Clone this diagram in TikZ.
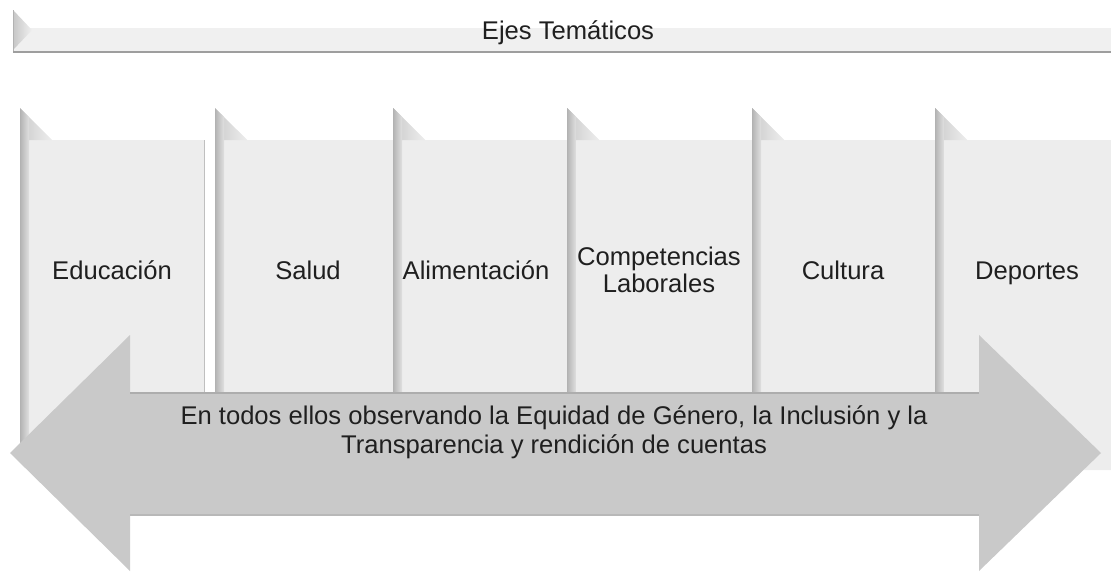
\documentclass[tikz,border=0pt]{standalone}
\usepackage{fontspec}
\setmainfont{Liberation Sans}
\usetikzlibrary{calc,positioning}
\tikzset{
colbody/.style={fill=black!7},
colstrip/.style={left color=black!30,right color=black!12},
colfold/.style={left color=black!20,right color=black!7},
collabel/.style={font=\fontsize{18.2}{19}\selectfont,align=center,text=black!88}
}
\tikzset{
bannerbody/.style={fill=black!6},
bannerfold/.style={left color=black!22,right color=black!6},
bannerline/.style={draw=black!38,line width=1.6pt},
bigarrow/.style={fill=black!21},
arrowtext/.style={font=\fontsize{18.2}{20.8}\selectfont,align=center,text=black!88}
}

\begin{document}
\begin{tikzpicture}[x=0.025cm,y=-0.025cm,>=latex]
\useasboundingbox (0,0) rectangle (1111,573);

\begin{scope}
\coordinate(btop) at (13,10);
\coordinate(bbot) at (1111,52);
\fill[bannerbody] (btop |- 0,28) rectangle (bbot);
\shade[bannerfold] (btop) -- (32,30) -- (btop |- 0,50) -- cycle;
\draw[black!30] (btop) -- (btop |- bbot);
\draw[bannerline] (btop |- bbot) -- (bbot);
\node (ejes) at (568,33) [collabel]{Ejes Temáticos};
\end{scope}

\begin{scope}
\coordinate(ctop) at (20,108);
\coordinate(cbot) at (204,450);
\fill[colbody] (ctop) -- ++(32,32) -| (cbot) -- (ctop |- cbot) -- cycle;
\draw[black!25] (ctop -| cbot) ++(0,32) -- (cbot);
\shade[colfold] (ctop) -- ++(32,32) -- ++(-32,0) -- cycle;
\shade[colstrip] (ctop) -- ++(9,9) -- ($(ctop |- cbot)+(9,0)$) -- (ctop |- cbot) -- cycle;
\node (educacion) at (112,270) [collabel]{Educación};
\end{scope}

\begin{scope}
\coordinate(ctop) at (215,108);
\coordinate(cbot) at (393,450);
\fill[colbody] (ctop) -- ++(32,32) -| (cbot) -- (ctop |- cbot) -- cycle;
\shade[colfold] (ctop) -- ++(32,32) -- ++(-32,0) -- cycle;
\shade[colstrip] (ctop) -- ++(9,9) -- ($(ctop |- cbot)+(9,0)$) -- (ctop |- cbot) -- cycle;
\node (salud) at (308,270) [collabel]{Salud};
\end{scope}

\begin{scope}
\coordinate(ctop) at (393,108);
\coordinate(cbot) at (567,450);
\fill[colbody] (ctop) -- ++(32,32) -| (cbot) -- (ctop |- cbot) -- cycle;
\shade[colfold] (ctop) -- ++(32,32) -- ++(-32,0) -- cycle;
\shade[colstrip] (ctop) -- ++(9,9) -- ($(ctop |- cbot)+(9,0)$) -- (ctop |- cbot) -- cycle;
\node (alimentacion) at (476,270) [collabel]{Alimentación};
\end{scope}

\begin{scope}
\coordinate(ctop) at (567,108);
\coordinate(cbot) at (752,450);
\fill[colbody] (ctop) -- ++(32,32) -| (cbot) -- (ctop |- cbot) -- cycle;
\shade[colfold] (ctop) -- ++(32,32) -- ++(-32,0) -- cycle;
\shade[colstrip] (ctop) -- ++(9,9) -- ($(ctop |- cbot)+(9,0)$) -- (ctop |- cbot) -- cycle;
\node (competencias) at (659,270) [collabel]{Competencias\\Laborales};
\end{scope}

\begin{scope}
\coordinate(ctop) at (752,108);
\coordinate(cbot) at (935,450);
\fill[colbody] (ctop) -- ++(32,32) -| (cbot) -- (ctop |- cbot) -- cycle;
\shade[colfold] (ctop) -- ++(32,32) -- ++(-32,0) -- cycle;
\shade[colstrip] (ctop) -- ++(9,9) -- ($(ctop |- cbot)+(9,0)$) -- (ctop |- cbot) -- cycle;
\node (cultura) at (843,270) [collabel]{Cultura};
\end{scope}

\begin{scope}
\coordinate(ctop) at (935,108);
\coordinate(cbot) at (1111,470);
\fill[colbody] (ctop) -- ++(32,32) -| (cbot) -- (ctop |- cbot) -- cycle;
\shade[colfold] (ctop) -- ++(32,32) -- ++(-32,0) -- cycle;
\shade[colstrip] (ctop) -- ++(9,9) -- ($(ctop |- cbot)+(9,0)$) -- (ctop |- cbot) -- cycle;
\node (deportes) at (1027,273) [collabel]{Deportes};
\end{scope}

\begin{scope}
\coordinate(aleft) at (10,453);
\coordinate(aright) at (1101,453);
\fill[bigarrow] (aleft) -- (130,335) -- (130,393) -- (979,393) -- (979,335)
  -- (aright) -- (979,571) -- (979,515) -- (130,515) -- (130,571) -- cycle;
\draw[black!32,line width=1pt] (130,393) -- (979,393);
\draw[black!28,line width=1pt] (130,515) -- (979,515);
\node (equidad) at (554,432) [arrowtext]{En todos ellos observando la Equidad de Género, la Inclusión y la\\Transparencia y rendición de cuentas};
\end{scope}

\end{tikzpicture}
\end{document}
